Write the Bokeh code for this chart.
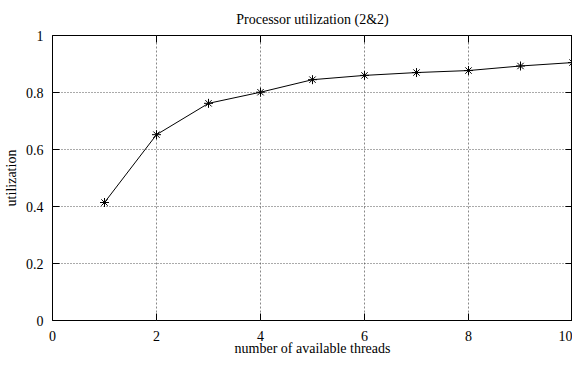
from bokeh.plotting import figure
from bokeh.models import LinearAxis, FixedTicker, Range1d
from bokeh.embed import file_html
from bokeh.resources import INLINE

threads = [1, 2, 3, 4, 5, 6, 7, 8, 9, 10]
utilization = [0.414, 0.652, 0.762, 0.801, 0.845, 0.860, 0.870, 0.877, 0.893, 0.905]

x_ticks = [0, 2, 4, 6, 8, 10]
x_tick_labels = ["0", "2", "4", "6", "8", "10"]
y_ticks = [0, 0.2, 0.4, 0.6, 0.8, 1]
y_tick_labels = ["0", "0.2", "0.4", "0.6", "0.8", "1"]

FONT = "Liberation Serif"
FS = "14px"

p = figure(width=572, height=358, output_backend="svg", toolbar_location=None,
           x_range=Range1d(0, 10), y_range=Range1d(0, 1),
           title="Processor utilization (2&2)",
           x_axis_label="number of available threads", y_axis_label="utilization",
           min_border_left=0, min_border_right=0, min_border_top=0, min_border_bottom=0)

p.title.align = "center"
p.title.text_font = FONT
p.title.text_font_size = FS
p.title.text_font_style = "normal"
p.title.text_color = "black"
p.title.text_line_height = 1.0
p.title.standoff = 18

p.outline_line_color = "black"
p.outline_line_width = 1
p.background_fill_color = "white"
p.border_fill_color = "white"

for ax, ticks, labels in ((p.xaxis[0], x_ticks, x_tick_labels), (p.yaxis[0], y_ticks, y_tick_labels)):
    ax.ticker = FixedTicker(ticks=ticks)
    ax.major_label_overrides = {t: l for t, l in zip(ticks, labels)}
    ax.axis_line_color = None
    ax.major_tick_in = 7
    ax.major_tick_out = 0
    ax.major_tick_line_color = "black"
    ax.minor_tick_line_color = None
    ax.major_label_text_font = FONT
    ax.major_label_text_font_size = FS
    ax.major_label_text_color = "black"
    ax.major_label_text_line_height = 1.0
    ax.axis_label_text_font = FONT
    ax.axis_label_text_font_size = FS
    ax.axis_label_text_font_style = "normal"
    ax.axis_label_text_color = "black"
    ax.axis_label_text_line_height = 1.0

p.xaxis[0].major_label_standoff = 10
p.xaxis[0].axis_label_standoff = -3
p.yaxis[0].major_label_standoff = 9
p.yaxis[0].axis_label_standoff = 4

# mirror ticks on top and right (no labels)
top = LinearAxis(ticker=FixedTicker(ticks=x_ticks),
                 major_label_overrides={t: "" for t in x_ticks},
                 major_label_standoff=0, axis_line_color=None, major_tick_in=7, major_tick_out=0,
                 minor_tick_line_color=None, major_tick_line_color="black")
right = LinearAxis(ticker=FixedTicker(ticks=y_ticks),
                   major_label_overrides={t: "" for t in y_ticks},
                   major_label_standoff=0, axis_line_color=None, major_tick_in=7, major_tick_out=0,
                   minor_tick_line_color=None, major_tick_line_color="black")
p.add_layout(top, "above")
p.add_layout(right, "right")

p.xgrid.ticker = FixedTicker(ticks=x_ticks)
p.ygrid.ticker = FixedTicker(ticks=y_ticks)
p.xgrid[0].grid_line_color = "#888888"
p.xgrid[0].grid_line_dash = "2 2"
p.ygrid[0].grid_line_color = "#555555"
p.ygrid[0].grid_line_dash = "1 2"

p.line(threads, utilization, line_color="black", line_width=1)
p.scatter(threads, utilization, marker="asterisk", size=9, line_color="black", line_width=1)

open("out.html", "w").write(file_html(p, INLINE))
